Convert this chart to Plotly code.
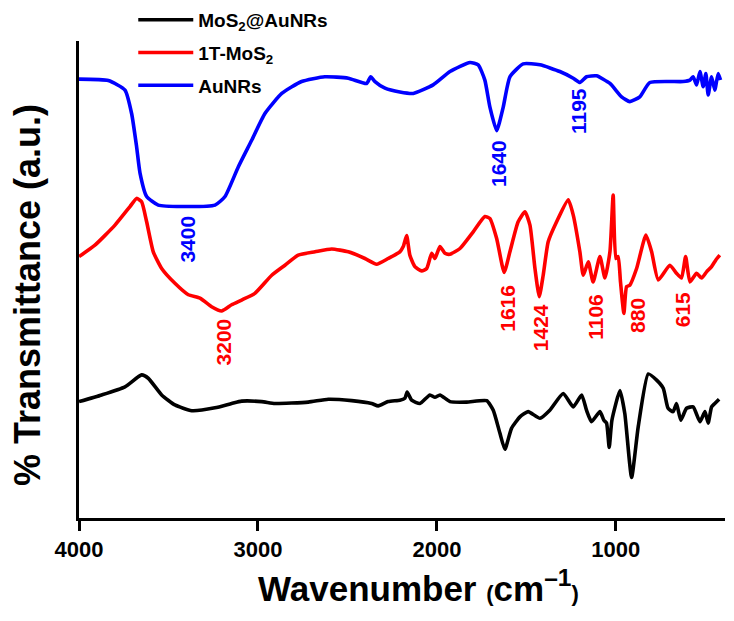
import plotly.graph_objects as go

# ---------------- data (wavenumber cm^-1, % transmittance a.u. with offsets) ----------------
wn_aunrs = [4000, 3836, 3743, 3706, 3678, 3659, 3622, 3557, 3426, 3240, 3184, 3110, 3035, 2961,
            2867, 2756, 2626, 2495, 2393, 2370, 2346, 2290, 2207, 2132, 2021, 1927, 1815, 1769,
            1732, 1704, 1666, 1629, 1592, 1518, 1424, 1313, 1238, 1201, 1164, 1108, 1033, 968,
            922, 866, 810, 624, 586, 568, 549, 530, 512, 497, 484, 465, 447, 428, 415]
t_aunrs = [92.0, 91.7, 89.7, 84.8, 77.8, 72.3, 67.4, 65.6, 65.3, 65.6, 67.4, 73.6, 79.2, 84.8,
           89.0, 91.5, 92.5, 92.2, 91.1, 92.5, 91.5, 90.1, 89.3, 89.0, 90.8, 93.6, 95.5, 95.0,
           91.8, 86.2, 81.2, 86.2, 92.5, 95.2, 95.0, 93.6, 92.2, 91.3, 92.5, 92.7, 91.1, 88.3,
           87.3, 88.3, 91.3, 91.5, 91.8, 92.5, 90.8, 93.6, 90.4, 93.2, 88.7, 92.5, 89.7, 93.2, 91.8]

wn_1t = [4000, 3911, 3799, 3715, 3678, 3650, 3622, 3585, 3538, 3464, 3389, 3324, 3259, 3203,
         3147, 3091, 3017, 2923, 2849, 2775, 2681, 2588, 2495, 2402, 2337, 2272, 2207, 2188,
         2169, 2151, 2123, 2085, 2057, 2029, 2011, 1983, 1955, 1927, 1871, 1797, 1732, 1704,
         1666, 1624, 1592, 1546, 1508, 1480, 1452, 1428, 1406, 1378, 1331, 1266, 1238, 1201,
         1182, 1154, 1127, 1089, 1061, 1033, 1015, 1000, 987, 974, 955, 940, 922, 884, 832,
         800, 763, 698, 661, 633, 610, 586, 549, 521, 493, 465, 441, 419]
t_1t = [54.8, 57.2, 61.4, 65.3, 67.0, 66.3, 62.1, 55.8, 52.3, 49.2, 46.8, 46.1, 44.3, 43.4,
        44.7, 45.7, 47.1, 50.9, 53.0, 55.1, 55.8, 56.4, 55.8, 54.4, 53.2, 54.4, 55.8, 56.9,
        59.2, 55.1, 52.7, 51.8, 52.3, 55.5, 54.4, 56.9, 55.5, 55.3, 56.5, 60.0, 63.2, 62.8,
        58.6, 51.5, 55.8, 62.1, 64.2, 61.4, 52.3, 46.4, 50.9, 57.9, 62.1, 66.7, 63.5, 55.8,
        50.9, 53.7, 49.5, 54.8, 50.3, 55.8, 67.7, 54.4, 54.8, 49.5, 42.9, 48.5, 48.8, 52.3, 59.3,
        55.8, 49.9, 53.0, 51.3, 50.3, 54.8, 49.5, 51.3, 50.3, 51.6, 52.7, 54.1, 55.1]

wn_mos2au = [4000, 3873, 3743, 3650, 3613, 3538, 3464, 3370, 3240, 3147, 3091, 2979, 2905, 2719,
             2607, 2476, 2365, 2328, 2272, 2207, 2179, 2166, 2141, 2095, 2039, 2011, 1983, 1927,
             1834, 1722, 1685, 1648, 1620, 1583, 1536, 1490, 1424, 1369, 1294, 1238, 1191, 1164,
             1136, 1089, 1067, 1052, 1037, 1022, 977, 950, 912, 875, 819, 772, 735, 708, 680,
             661, 637, 605, 568, 530, 502, 484, 465, 447, 423]
t_mos2au = [24.4, 25.8, 27.5, 30.0, 29.3, 25.8, 23.7, 22.5, 23.1, 24.0, 24.5, 24.4, 24.0, 24.3,
            24.9, 24.6, 24.0, 23.5, 24.4, 24.7, 25.1, 26.4, 24.7, 24.0, 25.8, 25.3, 25.8, 24.4,
            24.3, 24.6, 22.6, 17.8, 14.4, 18.8, 21.2, 22.3, 20.9, 22.6, 26.1, 23.3, 25.8, 22.6,
            20.2, 22.3, 20.5, 19.9, 14.8, 20.5, 26.7, 21.9, 8.5, 19.1, 30.2, 28.9, 27.2, 23.0, 22.3,
            24.0, 20.5, 23.0, 23.3, 20.2, 22.3, 19.9, 23.3, 24.0, 24.9]

series_names = ["MoS<sub>2</sub>@AuNRs", "1T-MoS<sub>2</sub>", "AuNRs"]

# peak labels
labels_aunrs = ["3400", "1640", "1195"]
labels_aunrs_wn = [3393, 1659, 1212]
labels_aunrs_t = [58.5, 74.4, 85.3]
labels_1t = ["3200", "1616", "1424", "1106", "880", "615"]
labels_1t_wn = [3190, 1610, 1424, 1113, 875, 629]
labels_1t_t = [37.0, 44.0, 40.0, 42.1, 42.4, 43.6]

x_ticks = [4000, 3000, 2000, 1000]

# ---------------- figure ----------------
FONT = "Arial, 'Liberation Sans', Helvetica, sans-serif"
BLUE = "#0000FF"
RED = "#FF0000"
BLACK = "#000000"

fig = go.Figure()
for name, xs, ys, col in [
    (series_names[0], wn_mos2au, t_mos2au, BLACK),
    (series_names[1], wn_1t, t_1t, RED),
    (series_names[2], wn_aunrs, t_aunrs, BLUE),
]:
    fig.add_trace(go.Scatter(x=xs, y=ys, mode="lines", name=name, legendgroup=name,
                             line=dict(color=col, width=3.6, shape="spline", smoothing=0.5)))

annotations = []
for txt, x, y in zip(labels_aunrs, labels_aunrs_wn, labels_aunrs_t):
    annotations.append(dict(x=x, y=y, xref="x", yref="y", text=txt, showarrow=False,
                            textangle=-90, xanchor="center", yanchor="middle",
                            font=dict(family=FONT, size=21, color=BLUE, weight="bold")))
for txt, x, y in zip(labels_1t, labels_1t_wn, labels_1t_t):
    annotations.append(dict(x=x, y=y, xref="x", yref="y", text=txt, showarrow=False,
                            textangle=-90, xanchor="center", yanchor="middle",
                            font=dict(family=FONT, size=21, color=RED, weight="bold")))
# axis titles
annotations.append(dict(x=-0.0805, y=0.4675, xref="paper", yref="paper",
                        text="% Transmittance (a.u.)", showarrow=False, textangle=-90,
                        xanchor="center", yanchor="middle",
                        font=dict(family=FONT, size=36, color=BLACK, weight="bold")))
annotations.append(dict(x=0.525, y=-0.142, xref="paper", yref="paper",
                        text="Wavenumber <span style='font-size:22px'>(</span>cm<sup>\u20131</sup><span style='font-size:22px'>)</span>",
                        showarrow=False, xanchor="center", yanchor="middle",
                        font=dict(family=FONT, size=35, color=BLACK, weight="bold")))

fig.update_layout(
    width=726, height=613,
    margin=dict(l=71, r=9, t=33, b=103, autoexpand=False),
    paper_bgcolor="white", plot_bgcolor="white",
    font=dict(family=FONT, color=BLACK),
    showlegend=True,
    legend=dict(x=0.084, xref="paper", y=1.084, yref="paper",
                xanchor="left", yanchor="top",
                font=dict(family=FONT, size=19, color=BLACK, weight="bold"),
                bgcolor="rgba(0,0,0,0)", itemwidth=55, tracegroupgap=5,
                traceorder="grouped"),
    annotations=annotations,
)
fig.update_xaxes(range=[4000, 390], tickvals=x_ticks, ticktext=[str(v) for v in x_ticks],
                 showline=True, linecolor=BLACK, linewidth=3, mirror=False,
                 ticks="outside", ticklen=10, tickwidth=3, tickcolor=BLACK,
                 showgrid=False, zeroline=False, automargin=False,
                 tickfont=dict(family=FONT, size=22, color=BLACK, weight="bold"))
fig.update_yaxes(range=[0, 100], showline=True, linecolor=BLACK, linewidth=3,
                 showticklabels=False, ticks="", showgrid=False, zeroline=False,
                 automargin=False)

fig.write_html("out.html")
